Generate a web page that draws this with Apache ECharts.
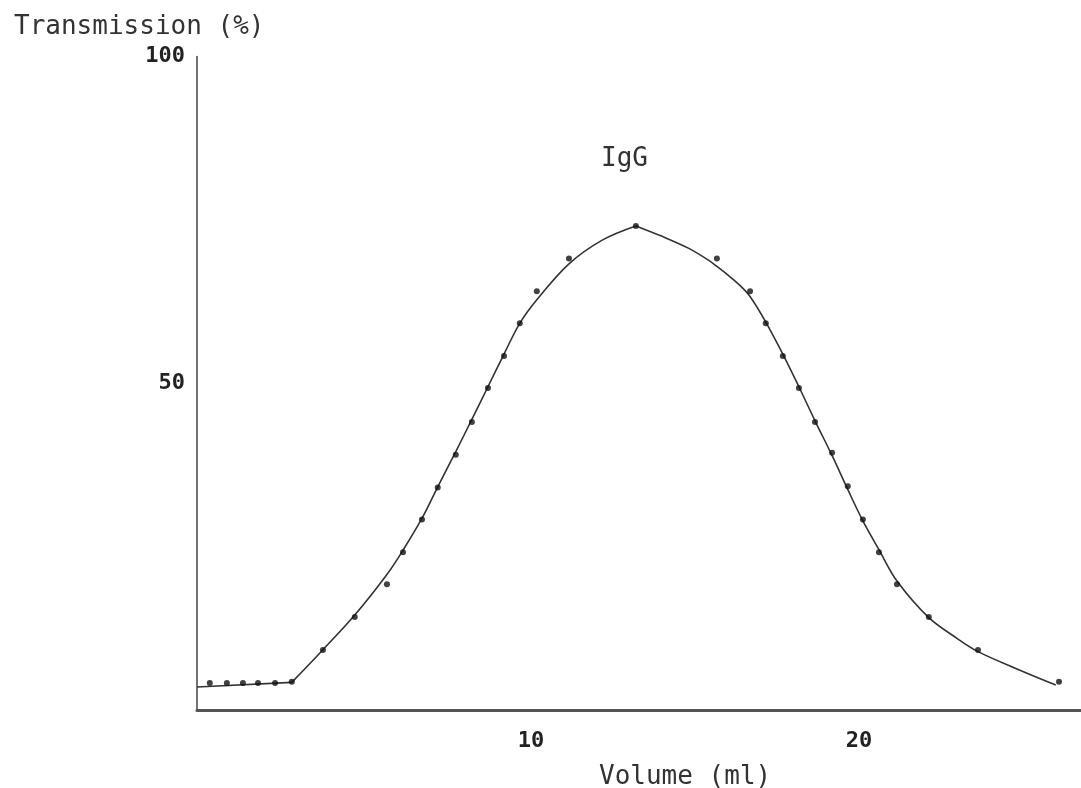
<!DOCTYPE html>
<html>
<head>
<meta charset="utf-8">
<script src="https://cdn.jsdelivr.net/npm/echarts@6/dist/echarts.min.js"></script>
<style>
html,body{margin:0;padding:0;background:#fff;}
#c{width:1081px;height:788px;}
</style>
</head>
<body>
<div id="c"></div>
<script>
// Measured data points (Volume ml, Transmission %)
const pointVolume = [0.21, 0.73, 1.22, 1.68, 2.20, 2.71, 3.66, 4.63, 5.61, 6.10, 6.68, 7.16, 7.71, 8.20, 8.69, 9.18, 9.66, 10.18, 11.16, 13.20, 15.67, 16.68, 17.16, 17.68, 18.17, 18.66, 19.18, 19.66, 20.12, 20.61, 21.16, 22.13, 23.63, 26.10];
const pointTransmission = [4.2, 4.2, 4.2, 4.2, 4.2, 4.4, 9.25, 14.3, 19.3, 24.2, 29.2, 34.1, 39.1, 44.1, 49.3, 54.2, 59.2, 64.1, 69.1, 74.1, 69.1, 64.1, 59.2, 54.2, 49.3, 44.1, 39.4, 34.3, 29.2, 24.2, 19.3, 14.3, 9.25, 4.4];
// Fitted curve: baseline, rising flank, falling flank
const baseVolume = [-0.18, 2.71];
const baseTransmission = [3.6, 4.3];
const riseVolume = [2.71, 3.66, 4.63, 5.61, 6.10, 6.68, 7.16, 7.71, 8.20, 8.69, 9.18, 9.66, 10.18, 11.16, 12.2, 13.2];
const riseTransmission = [4.3, 9.3, 14.6, 20.8, 24.5, 29.4, 34.2, 39.6, 44.5, 49.5, 54.5, 59.2, 62.8, 68.3, 72.0, 74.1];
const fallVolume = [13.2, 14.0, 14.8, 15.4, 15.67, 16.0, 16.37, 16.68, 17.16, 17.68, 18.17, 18.66, 19.18, 19.66, 20.12, 20.61, 21.16, 22.13, 23.0, 23.63, 24.8, 26.0];
const fallTransmission = [74.1, 72.5, 70.7, 68.9, 67.9, 66.6, 65.0, 63.3, 59.4, 54.5, 49.5, 44.3, 39.0, 33.8, 29.0, 24.6, 19.8, 14.2, 11.0, 9.0, 6.4, 3.9];
const xTickLabels = [10, 20];
const yTickLabels = [50, 100];

const zip = (a, b) => a.map((v, i) => [v, b[i]]);
const pts = zip(pointVolume, pointTransmission);

const chart = echarts.init(document.getElementById('c'), null, {renderer: 'canvas'});
const tickFont = {fontFamily: 'DejaVu Sans Mono', fontSize: 22, color: '#222', fontWeight: 'bold'};
const curveStyle = {color: '#333', width: 1.6};
chart.setOption({
  animation: false,
  backgroundColor: '#fff',
  grid: {left: 197, right: 0, top: 56.5, bottom: 77.5, containLabel: false},
  xAxis: {
    type: 'value', min: -0.18, max: 26.77,
    axisLine: {show: true, onZero: false, lineStyle: {color: '#555', width: 3}},
    axisTick: {show: false},
    splitLine: {show: false},
    axisLabel: Object.assign({show: true, margin: 20, customValues: xTickLabels, formatter: v => String(v)}, tickFont)
  },
  yAxis: {
    type: 'value', min: 0, max: 100,
    axisLine: {show: true, onZero: false, lineStyle: {color: '#444', width: 1.5}},
    axisTick: {show: false},
    splitLine: {show: false},
    axisLabel: Object.assign({show: true, margin: 12, customValues: yTickLabels, formatter: v => String(v)}, tickFont)
  },
  graphic: [
    {type: 'text', left: 14, top: 14, style: {text: 'Transmission (%)', font: '26px "DejaVu Sans Mono"', fill: '#333'}},
    {type: 'text', left: 599, top: 764, style: {text: 'Volume (ml)', font: '26px "DejaVu Sans Mono"', fill: '#333'}},
    {type: 'text', left: 601, top: 146, style: {text: 'IgG', font: '26px "DejaVu Sans Mono"', fill: '#333'}}
  ],
  series: [
    {type: 'line', data: zip(baseVolume, baseTransmission), smooth: false, symbol: 'none', lineStyle: curveStyle, z: 2},
    {type: 'line', data: zip(riseVolume, riseTransmission), smooth: 0.35, symbol: 'none', lineStyle: curveStyle, z: 2},
    {type: 'line', data: zip(fallVolume, fallTransmission), smooth: 0.35, symbol: 'none', lineStyle: curveStyle, z: 2},
    {type: 'scatter', data: pts, symbol: 'circle', symbolSize: 6, itemStyle: {color: '#111'}, z: 3}
  ]
});
</script>
</body>
</html>
